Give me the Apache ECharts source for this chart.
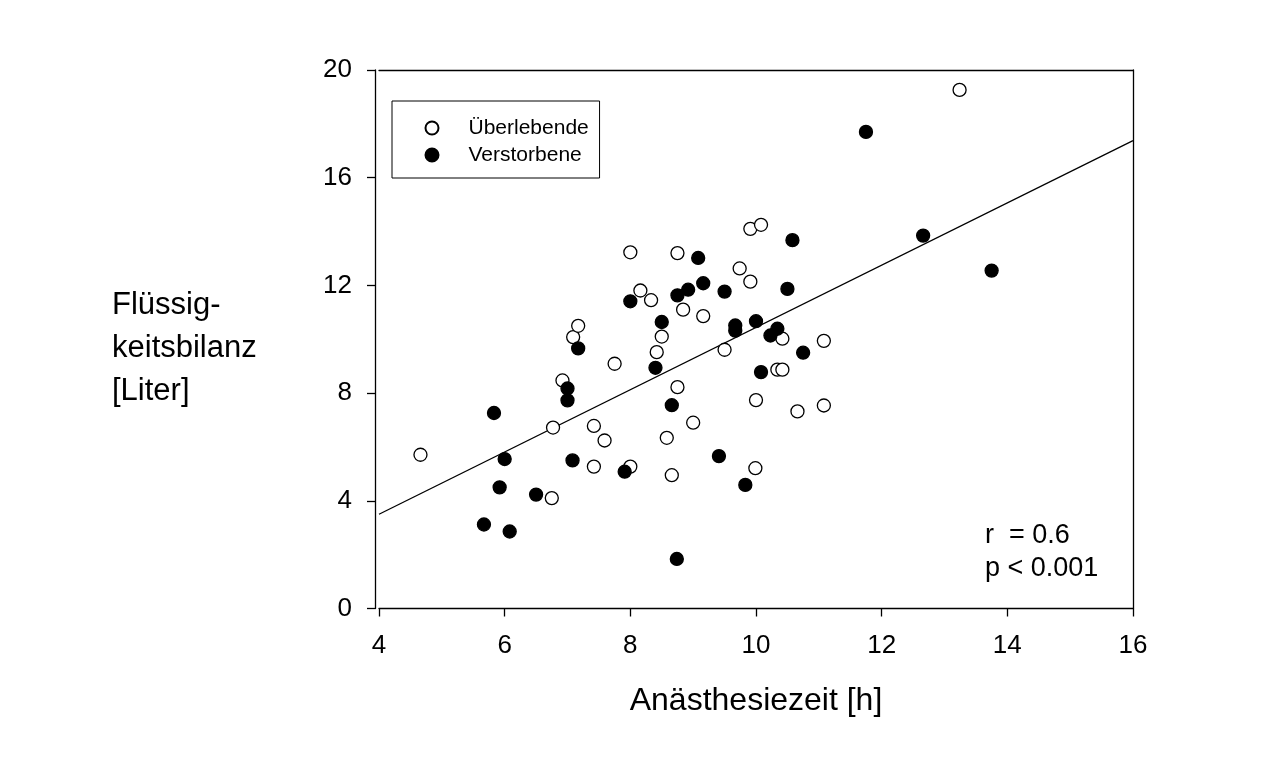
<!DOCTYPE html>
<html>
<head>
<meta charset="utf-8">
<script src="https://cdn.jsdelivr.net/npm/echarts@6/dist/echarts.min.js"></script>
<style>
  html, body { margin: 0; padding: 0; background: #fff; }
  #main { width: 1265px; height: 780px; }
</style>
</head>
<body>
<div id="main"></div>
<script>
// Überlebende (offene Kreise) [Anästhesiezeit h, Bilanz Liter]
var ueberlebende = [
    [4.66, 5.71], [6.75, 4.10], [6.77, 6.72], [6.92, 8.47], [7.09, 10.08],
    [7.17, 10.50], [7.42, 5.27], [7.42, 6.78], [7.59, 6.24], [7.75, 9.09],
    [8.00, 13.23], [8.00, 5.27], [8.16, 11.81], [8.33, 11.45], [8.42, 9.52],
    [8.50, 10.10], [8.58, 6.34], [8.66, 4.95], [8.75, 13.20], [8.75, 8.22],
    [8.84, 11.10], [9.00, 6.90], [9.16, 10.86], [9.50, 9.61], [9.74, 12.63],
    [9.91, 14.10], [9.91, 12.14], [10.00, 7.74], [9.99, 5.21], [10.08, 14.25],
    [10.34, 8.87], [10.42, 8.87], [10.42, 10.02], [10.66, 7.32], [11.08, 9.94],
    [11.08, 7.54], [13.24, 19.26]
];

// Verstorbene (gefüllte Kreise)
var verstorbene = [
    [5.67, 3.12], [5.83, 7.26], [5.92, 4.50], [6.00, 5.55], [6.08, 2.86],
    [6.50, 4.23], [7.00, 8.17], [7.00, 7.73], [7.08, 5.50], [7.17, 9.66],
    [7.91, 5.08], [8.00, 11.41], [8.40, 8.94], [8.50, 10.64], [8.66, 7.55],
    [8.75, 11.63], [8.74, 1.84], [8.92, 11.84], [9.08, 13.02], [9.16, 12.08],
    [9.41, 5.66], [9.50, 11.77], [9.67, 10.51], [9.67, 10.32], [9.83, 4.59],
    [10.00, 10.67], [10.08, 8.78], [10.23, 10.14], [10.34, 10.39], [10.50, 11.87],
    [10.58, 13.68], [10.75, 9.50], [11.75, 17.70], [12.66, 13.85], [13.75, 12.55]
];

// Regressionsgerade, Endpunkte aus der Abbildung
var regression = [[4, 3.50], [16, 17.38]];

var xRange = [4, 16, 2];
var yRange = [0, 20, 4];

var font = 'Liberation Sans, Arial, sans-serif';

var chart = echarts.init(document.getElementById('main'));

option = {
    backgroundColor: '#fff',
    animation: false,
    textStyle: { fontFamily: font, color: '#000' },
    grid: { left: 379, top: 70, right: 132, bottom: 171.5 },

    legend: {
        orient: 'vertical',
        left: 392,
        top: 101,
        padding: [16.5, 10.8, 12.5, 32.5],
        borderColor: '#000',
        borderWidth: 1,
        itemWidth: 63,
        itemHeight: 13,
        itemGap: 6,
        symbolKeepAspect: true,
        selectedMode: false,
        textStyle: { fontFamily: font, fontSize: 21, lineHeight: 21, color: '#000' },
        data: [
            { name: 'Überlebende', icon: 'circle' },
            { name: 'Verstorbene', icon: 'circle' }
        ]
    },

    xAxis: [
        {
            type: 'value',
            min: xRange[0], max: xRange[1], interval: xRange[2],
            name: 'Anästhesiezeit [h]',
            nameLocation: 'middle',
            nameGap: 77,
            nameTextStyle: { fontFamily: font, fontSize: 32, color: '#000' },
            axisLine: { show: true, onZero: false, lineStyle: { color: '#000', width: 1.3 } },
            axisTick: { show: true, inside: false, length: 8, lineStyle: { color: '#000', width: 1.3 } },
            axisLabel: { fontFamily: font, fontSize: 26, color: '#000', margin: 24 },
            splitLine: { show: false }
        },
        {
            type: 'value',
            position: 'top',
            min: xRange[0], max: xRange[1],
            axisLine: { show: true, onZero: false, lineStyle: { color: '#000', width: 1.3 } },
            axisTick: { show: false },
            axisLabel: { show: false },
            splitLine: { show: false }
        }
    ],

    yAxis: [
        {
            type: 'value',
            min: yRange[0], max: yRange[1], interval: yRange[2],
            offset: 4,
            axisLine: { show: true, onZero: false, lineStyle: { color: '#000', width: 1.3 } },
            axisTick: { show: true, inside: false, length: 8, lineStyle: { color: '#000', width: 1.3 } },
            axisLabel: { fontFamily: font, fontSize: 26, color: '#000', margin: 23 },
            splitLine: { show: false }
        },
        {
            type: 'value',
            position: 'right',
            min: yRange[0], max: yRange[1],
            axisLine: { show: true, onZero: false, lineStyle: { color: '#000', width: 1.3 } },
            axisTick: { show: false },
            axisLabel: { show: false },
            splitLine: { show: false }
        }
    ],

    graphic: [
        {
            type: 'text',
            left: 112,
            top: 284,
            style: {
                text: 'Flüssig-\nkeitsbilanz\n[Liter]',
                font: '31px ' + font,
                lineHeight: 43,
                fill: '#000'
            }
        },
        {
            type: 'text',
            left: 985,
            top: 519,
            style: {
                text: 'r  = 0.6\np < 0.001',
                font: '27px ' + font,
                lineHeight: 33,
                fill: '#000'
            }
        }
    ],

    series: [
        {
            name: 'Regression',
            type: 'line',
            data: regression,
            symbol: 'none',
            silent: true,
            lineStyle: { color: '#000', width: 1.3 },
            z: 1
        },
        {
            name: 'Überlebende',
            type: 'scatter',
            data: ueberlebende,
            symbolSize: 13,
            itemStyle: { color: '#fff', borderColor: '#000', borderWidth: 1.3, opacity: 1 },
            z: 3
        },
        {
            name: 'Verstorbene',
            type: 'scatter',
            data: verstorbene,
            symbolSize: 13,
            itemStyle: { color: '#000', borderColor: '#000', borderWidth: 1.3, opacity: 1 },
            z: 3
        }
    ]
};

chart.setOption(option);
</script>
</body>
</html>
